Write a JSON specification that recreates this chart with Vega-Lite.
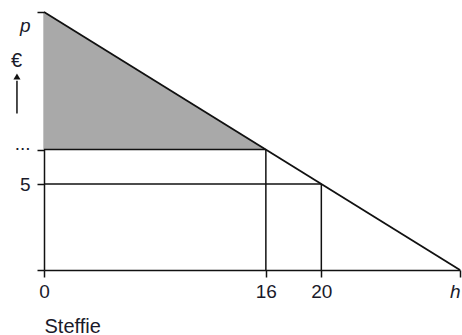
{
  "$schema": "https://vega.github.io/schema/vega-lite/v6.json",
  "width": 416,
  "height": 258,
  "autosize": {"type": "none"},
  "padding": {"left": 44, "top": 12, "right": 2, "bottom": 65},
  "background": "white",
  "config": {
    "view": {"stroke": null},
    "axis": {
      "grid": false,
      "domainColor": "#111",
      "domainWidth": 1.5,
      "tickColor": "#111",
      "tickWidth": 1.5,
      "tickSize": 7,
      "labelFont": "Liberation Sans",
      "labelFontSize": 19,
      "labelColor": "#1a1a2a",
      "titleFont": "Liberation Sans",
      "titleColor": "#1a1a2a",
      "titleFontWeight": "normal"
    }
  },
  "datasets": {
    "demand": [{"q": 0, "p": 15}, {"q": 30, "p": 0}],
    "surplus": [{"q": 0, "p": 15, "p2": 7}, {"q": 16, "p": 7, "p2": 7}],
    "guides": [
      {"q": 0, "q2": 16, "p": 7, "p2": 7},
      {"q": 0, "q2": 20, "p": 5, "p2": 5},
      {"q": 16, "q2": 16, "p": 0, "p2": 7},
      {"q": 20, "q2": 20, "p": 0, "p2": 5}
    ],
    "arrow": [{"q": -1.95, "p": 9.1, "p2": 11.0}],
    "head": [{"q": -1.95, "p": 11.25}]
  },
  "encoding": {
    "x": {
      "field": "q", "type": "quantitative",
      "scale": {"domain": [0, 30], "nice": false, "zero": false},
      "axis": {
        "values": [0, 16, 20, 30],
        "labelExpr": "datum.value == 30 ? 'h' : datum.label",
        "labelFlush": false,
        "labelPadding": 5,
        "labelFontStyle": {"condition": {"test": "datum.value == 30", "value": "italic"}, "value": "normal"},
        "labelAlign": {"condition": {"test": "datum.value == 30", "value": "right"}, "value": "center"},
        "title": "Steffie",
        "titleFontSize": 20,
        "titleAnchor": "start",
        "titleAlign": "left",
        "titleBaseline": "alphabetic",
        "titleX": 0,
        "titleY": 62
      }
    },
    "y": {
      "field": "p", "type": "quantitative",
      "scale": {"domain": [0, 15], "nice": false, "zero": false},
      "axis": {
        "values": [0, 5, 7, 15],
        "labelExpr": "datum.value == 15 ? 'p' : datum.value == 7 ? '...' : datum.value == 0 ? '' : datum.label",
        "labelFlush": false,
        "labelPadding": 7,
        "labelFontStyle": {"condition": {"test": "datum.value == 15", "value": "italic"}, "value": "normal"},
        "labelBaseline": {"condition": [{"test": "datum.value == 15", "value": "top"}, {"test": "datum.value == 7", "value": "alphabetic"}], "value": "middle"},
        "labelOffset": {"condition": {"test": "datum.value == 15", "value": 4}, "value": 0},
        "title": "€",
        "titleFontSize": 20,
        "titleAngle": 0,
        "titleAlign": "center",
        "titleBaseline": "middle",
        "titleX": -28,
        "titleY": 48
      }
    }
  },
  "layer": [
    {
      "data": {"name": "surplus"},
      "mark": {"type": "area", "color": "#a9a9a9"},
      "encoding": {"y2": {"field": "p2"}}
    },
    {
      "data": {"name": "guides"},
      "mark": {"type": "rule", "color": "#111", "strokeWidth": 1.5},
      "encoding": {"x2": {"field": "q2"}, "y2": {"field": "p2"}}
    },
    {
      "data": {"name": "demand"},
      "mark": {"type": "line", "color": "#111", "strokeWidth": 1.8}
    },
    {
      "data": {"name": "arrow"},
      "mark": {"type": "rule", "color": "#111", "strokeWidth": 1.5, "clip": false},
      "encoding": {"y2": {"field": "p2"}}
    },
    {
      "data": {"name": "head"},
      "mark": {"type": "point", "shape": "triangle-up", "filled": true, "color": "#111", "size": 50, "opacity": 1, "clip": false}
    }
  ]
}
